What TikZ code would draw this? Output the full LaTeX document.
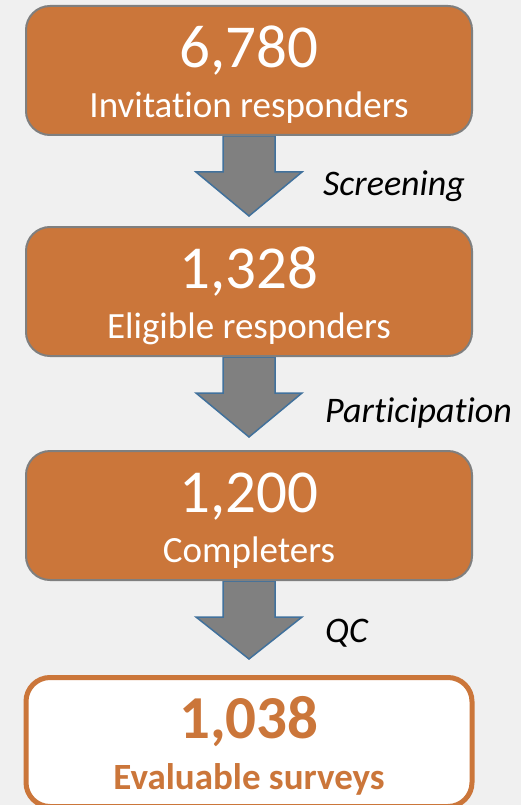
\documentclass[tikz,border=0pt]{standalone}
\usepackage{fontspec}
\setmainfont{Carlito}[Ligatures=NoCommon]
\usetikzlibrary{positioning, calc}
\definecolor{stageorange}{HTML}{CB763A}
\definecolor{stageborder}{HTML}{7F7F7F}
\definecolor{arrowgray}{HTML}{808080}
\definecolor{arrowblue}{HTML}{41719C}
\definecolor{canvas}{HTML}{F0F0F0}
\tikzstyle{stage} = [
  rectangle,
  rounded corners=24pt,
  minimum width=446pt,
  minimum height=129pt,
  inner sep=0pt,
  align=center,
  draw=stageborder,
  line width=2pt,
  fill=stageorange,
  text=white
]
\tikzstyle{result} = [
  stage,
  draw=stageorange,
  line width=5pt,
  fill=white,
  text=stageorange,
  font=\bfseries
]
\tikzstyle{flow} = [draw=arrowblue, fill=arrowgray, line width=1.5pt, line join=miter]
\tikzstyle{steplabel} = [inner sep=0pt, anchor=base west, font=\fontsize{36}{40}\selectfont\itshape]
\newcommand{\stagetext}[2]{\fontsize{61}{61}\selectfont\rule{0pt}{50pt}#1\\[16pt]\fontsize{37}{44}\selectfont #2}
\pgfdeclarelayer{background}
\pgfsetlayers{background,main}

\begin{document}
\begin{tikzpicture}[x=1pt, y=1pt, node distance=90pt]
    \useasboundingbox (0,0) rectangle (521,-805);
    \node (invitation-responders) [stage] at (249,-70.5) {\stagetext{6,780}{Invitation responders}};
    \node (eligible-responders) [stage, below=of invitation-responders] {\stagetext{1,328}{Eligible responders}};
    \node (completers) [stage, below=93pt of eligible-responders] {\stagetext{1,200}{Completers}};
    \node (evaluable-surveys) [result, below=94pt of completers] {\stagetext{1,038}{Evaluable surveys}};

    \begin{pgfonlayer}{background}
      \fill [canvas] (0,0) rectangle (521,-805);
      \draw [flow] (invitation-responders.south) ++(-26,0) -- ++(0,-36) -- ++(-27,0) -- ++(53,-44) coordinate (screening-tip) -- ++(53,44) -- ++(-27,0) -- ++(0,36) -- cycle;
      \draw [flow] (eligible-responders.south) ++(-26,0) -- ++(0,-36) -- ++(-27,0) -- ++(53,-44) coordinate (participation-tip) -- ++(53,44) -- ++(-27,0) -- ++(0,36) -- cycle;
      \draw [flow] (completers.south) ++(-26,0) -- ++(0,-36) -- ++(-27,0) -- ++(53,-42) coordinate (qc-tip) -- ++(53,42) -- ++(-27,0) -- ++(0,36) -- cycle;
    \end{pgfonlayer}

    \node (screening) [steplabel] at ($(screening-tip)+(74,21)$) {Screening};
    \node (participation) [steplabel] at ($(participation-tip)+(76,15)$) {Participation};
    \node (qc) [steplabel] at ($(qc-tip)+(76,17)$) {QC};
  \end{tikzpicture}
\end{document}
